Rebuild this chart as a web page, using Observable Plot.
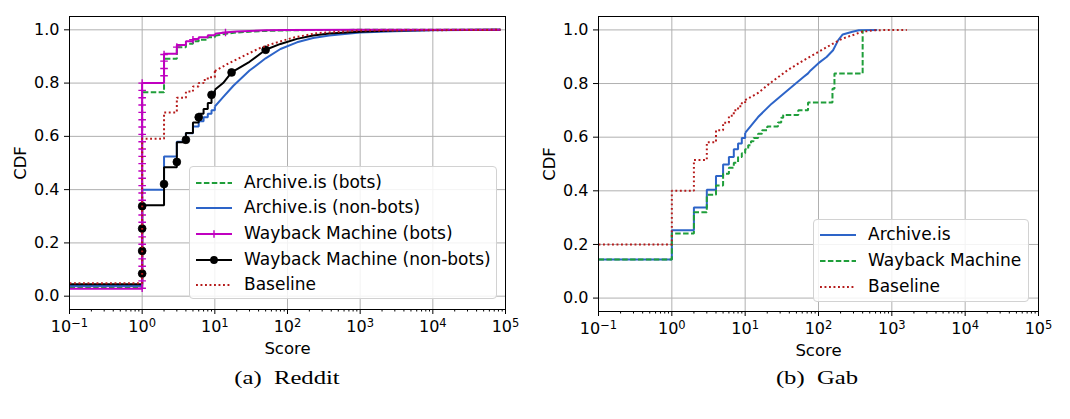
<!DOCTYPE html>
<html><head><meta charset="utf-8">
<script src="https://cdn.jsdelivr.net/npm/d3@7"></script>
<script src="https://cdn.jsdelivr.net/npm/@observablehq/plot@0.6"></script>
<style>
body{margin:0;background:#fff;}
#wrap{position:relative;width:1070px;height:419px;overflow:hidden;font-family:"DejaVu Sans";background:#fff;}
.panel{position:absolute;top:0;}
.legend{position:absolute;border:1px solid #d2d2d2;border-radius:4px;background:rgba(255,255,255,0.85);box-sizing:border-box;}
.row{position:absolute;left:0;right:0;height:26px;}
.row svg{position:absolute;top:0;left:6px;overflow:visible;}
.row span{position:absolute;left:54px;top:13px;transform:translateY(-52%);font-size:17px;white-space:nowrap;line-height:1;color:#000;}
.caption{position:absolute;font-family:"Liberation Serif";font-size:18px;transform:translate(-50%,-50%) scaleX(1.37);white-space:pre;color:#000;}
</style></head><body><div id="wrap"></div>
<script>
// ---------- tick values / labels ----------
const scoreTicks = [0.1, 1, 10, 100, 1000, 10000, 100000];
const scoreTickLabels = ["10^\u22121", "10^0", "10^1", "10^2", "10^3", "10^4", "10^5"];
const cdfTicks = [0, 0.2, 0.4, 0.6, 0.8, 1.0];

// ---------- (a) Reddit ----------
const redditNames = ["Archive.is (bots)", "Archive.is (non-bots)", "Wayback Machine (bots)", "Wayback Machine (non-bots)", "Baseline"];

const redditArchiveBotsX = [0.1, 1, 2, 3, 4, 5, 6, 8, 10, 15, 20, 30, 50, 100, 200, 1000, 85000];
const redditArchiveBotsY = [0.033, 0.766, 0.891, 0.935, 0.948, 0.957, 0.963, 0.972, 0.978, 0.986, 0.99, 0.993, 0.996, 0.998, 0.999, 1.0, 1.0];

const redditArchiveNonBotsX = [0.1, 1, 2, 3, 4, 5, 6, 7, 8, 9, 10, 13, 18, 30, 50, 80, 135, 225, 375, 1000, 3000, 10000, 85000];
const redditArchiveNonBotsY = [0.038, 0.40, 0.524, 0.58, 0.612, 0.637, 0.657, 0.672, 0.685, 0.698, 0.712, 0.747, 0.79, 0.847, 0.893, 0.928, 0.953, 0.969, 0.979, 0.99, 0.995, 0.998, 1.0];

const redditWaybackBotsX = [0.1, 1, 2, 3, 4, 5, 6, 8, 10, 15, 20, 30, 50, 100, 1000, 85000];
const redditWaybackBotsY = [0.028, 0.80, 0.91, 0.943, 0.957, 0.966, 0.972, 0.98, 0.985, 0.991, 0.994, 0.996, 0.998, 0.999, 1.0, 1.0];
const redditWaybackBotsMarkerLevels = [0.03, 0.0575, 0.085, 0.1125, 0.14, 0.1675, 0.195, 0.2225, 0.25, 0.2775, 0.305, 0.3325, 0.36, 0.3875, 0.415, 0.4425, 0.47, 0.4975, 0.525, 0.5525, 0.58, 0.6075, 0.635, 0.6625, 0.69, 0.7175, 0.745, 0.7725, 0.80, 0.8275, 0.855, 0.8825, 0.9075, 0.935, 0.9625, 0.99];

const redditWaybackNonBotsX = [0.1, 1, 2, 3, 4, 5, 6, 7, 8, 9, 10, 13, 17, 30, 50, 80, 135, 225, 375, 1000, 3000, 10000, 85000];
const redditWaybackNonBotsY = [0.045, 0.341, 0.484, 0.578, 0.613, 0.652, 0.685, 0.703, 0.725, 0.758, 0.775, 0.80, 0.84, 0.88, 0.925, 0.947, 0.966, 0.979, 0.986, 0.993, 0.997, 0.999, 1.0];
const redditWaybackNonBotsMarkerLevels = [0.085, 0.17, 0.254, 0.338, 0.421, 0.504, 0.587, 0.672, 0.756, 0.84, 0.925];

const redditBaselineX = [0.1, 1, 2, 3, 4, 5, 6, 7, 8, 10, 15, 25, 42, 70, 117, 260, 1000, 85000];
const redditBaselineY = [0.049, 0.591, 0.69, 0.745, 0.768, 0.787, 0.80, 0.812, 0.822, 0.845, 0.872, 0.902, 0.932, 0.952, 0.97, 0.988, 0.997, 1.0];

// ---------- (b) Gab ----------
const gabNames = ["Archive.is", "Wayback Machine", "Baseline"];

const gabArchiveX = [0.1, 1, 2, 3, 4, 5, 6, 7, 8, 9, 10, 15, 23, 38, 63, 72, 78, 100, 129, 158, 185, 214, 290, 355, 630];
const gabArchiveY = [0.144, 0.253, 0.338, 0.404, 0.455, 0.498, 0.526, 0.555, 0.576, 0.597, 0.616, 0.675, 0.725, 0.775, 0.825, 0.838, 0.849, 0.876, 0.899, 0.924, 0.961, 0.983, 0.993, 0.999, 1.0];

const gabWaybackX = [0.1, 1, 2, 3, 4, 5, 6, 7, 8, 9, 10, 11, 12, 13, 15, 17, 20, 28, 31, 33, 53, 72, 155, 165, 400];
const gabWaybackY = [0.144, 0.241, 0.32, 0.385, 0.42, 0.464, 0.486, 0.505, 0.526, 0.54, 0.555, 0.57, 0.585, 0.597, 0.613, 0.626, 0.64, 0.655, 0.672, 0.683, 0.70, 0.729, 0.781, 0.837, 1.0];

const gabBaselineX = [0.1, 1, 2, 3, 4, 5, 6, 7, 8, 9, 10, 15, 23, 38, 63, 100, 158, 214, 290, 390, 600, 1600];
const gabBaselineY = [0.20, 0.40, 0.515, 0.581, 0.626, 0.654, 0.68, 0.70, 0.715, 0.727, 0.738, 0.765, 0.806, 0.85, 0.887, 0.918, 0.949, 0.968, 0.98, 0.993, 0.999, 1.0];

// ---------- styles ----------
const GREEN = "#1f9e3a", BLUE = "#2d64c8", MAGENTA = "#c000c0", BLACK = "#000000", RED = "#b51b1b";
const LW = 2;
const styleOf = {
  green: {stroke: GREEN, strokeDasharray: "5.5,2.4", strokeLinecap: "butt"},
  blue: {stroke: BLUE, strokeLinecap: "butt"},
  magenta: {stroke: MAGENTA, strokeLinecap: "butt"},
  black: {stroke: BLACK, strokeLinecap: "butt"},
  red: {stroke: RED, strokeDasharray: "1.9,2.6", strokeLinecap: "butt"}
};

const plusSymbol = {
  draw(context, size) {
    const r = Math.sqrt(size / Math.PI);
    context.moveTo(-r, 0); context.lineTo(r, 0);
    context.moveTo(0, -r); context.lineTo(0, r);
  }
};

function rowsOf(xs, ys) { return xs.map((x, i) => ({x, y: ys[i]})); }

// x position where the CDF line reaches a given level (for markers)
function levelX(xs, ys, q, stepUntil) {
  for (let i = 0; i < ys.length; i++) {
    if (ys[i] >= q - 1e-9) {
      if (xs[i] > stepUntil && i > 0) {
        const t = (q - ys[i - 1]) / (ys[i] - ys[i - 1]);
        return Math.exp(Math.log(xs[i - 1]) + t * (Math.log(xs[i]) - Math.log(xs[i - 1])));
      }
      return xs[i];
    }
  }
  return xs[xs.length - 1];
}

function seriesLines(s) {
  const rows = rowsOf(s.x, s.y);
  const st = styleOf[s.style];
  const common = {x: "x", y: "y", strokeWidth: LW, strokeLinejoin: "miter", ...st};
  const stepRows = rows.filter(d => d.x <= s.stepUntil);
  const smoothRows = rows.filter(d => d.x >= s.stepUntil);
  const m = [Plot.line(stepRows, {...common, curve: "step-after"})];
  if (smoothRows.length > 1) m.push(Plot.line(smoothRows, {...common, curve: "linear", strokeLinejoin: "round"}));
  return m;
}
function seriesMarkers(s) {
  if (!s.markers) return [];
  const st = styleOf[s.style];
  const mk = s.markers.map(q => ({x: levelX(s.x, s.y, q, s.stepUntil), y: q}));
  if (s.marker === "circle") return [Plot.dot(mk, {x: "x", y: "y", r: 3.9, fill: BLACK, stroke: BLACK, strokeWidth: 0.8})];
  return [Plot.dot(mk, {x: "x", y: "y", r: 3.8, symbol: plusSymbol, fill: "none", stroke: st.stroke, strokeWidth: 1.4})];
}

const minorTicks = [];
for (let k = -1; k < 5; k++) for (let m = 2; m <= 9; m++) minorTicks.push(m * Math.pow(10, k));

function makePanel({series, order, width, height, mt, mr, mb, ml}) {
  const marks = [
    Plot.gridX(scoreTicks, {stroke: "#b0b0b0", strokeOpacity: 1, strokeWidth: 1}),
    Plot.gridY(cdfTicks, {stroke: "#b0b0b0", strokeOpacity: 1, strokeWidth: 1})
  ];
  for (const [idx, what] of order) {
    const s = series[idx];
    if (what === "line") marks.push(...seriesLines(s));
    else marks.push(...seriesMarkers(s));
  }
  marks.push(
    Plot.frame({stroke: "#000", strokeWidth: 1}),
    Plot.axisX(minorTicks, {tickSize: 2.5, tickFormat: () => "", label: null}),
    Plot.axisX(scoreTicks, {tickSize: 5, tickPadding: 6, tickFormat: d => scoreTickLabels[scoreTicks.indexOf(d)], label: null, fontSize: 16}),
    Plot.axisY(cdfTicks, {tickSize: 5, tickPadding: 5, tickFormat: d3.format(".1f"), label: null, fontSize: 16}),
    Plot.text(["Score"], {text: d => d, frameAnchor: "bottom", dy: 39, lineAnchor: "middle", fontSize: 16.5}),
    Plot.text(["CDF"], {text: d => d, frameAnchor: "left", dx: -49, rotate: -90, lineAnchor: "middle", textAnchor: "middle", fontSize: 16.5})
  );
  const svg = Plot.plot({
    width, height, marginTop: mt, marginRight: mr, marginBottom: mb, marginLeft: ml,
    x: {type: "log", domain: [0.1, 1e5], label: null},
    y: {domain: [-0.05, 1.05], label: null},
    style: {fontFamily: "DejaVu Sans", fontSize: "16px", color: "#000", background: "transparent", overflow: "visible"},
    marks
  });
  // render "10^k" tick labels with a raised exponent
  d3.select(svg).selectAll("text").each(function () {
    const t = this.textContent;
    if (t && t.includes("^") && this.children.length === 0) {
      const [base, exp] = t.split("^");
      this.textContent = "";
      d3.select(this).append("tspan").text(base);
      d3.select(this).append("tspan").attr("dy", "-0.45em").attr("font-size", "11.5px").text(exp);
    }
  });
  return svg;
}

const redditSeries = [
  {name: redditNames[0], x: redditArchiveBotsX, y: redditArchiveBotsY, style: "green", stepUntil: 10},
  {name: redditNames[1], x: redditArchiveNonBotsX, y: redditArchiveNonBotsY, style: "blue", stepUntil: 10},
  {name: redditNames[2], x: redditWaybackBotsX, y: redditWaybackBotsY, style: "magenta", stepUntil: 10, markers: redditWaybackBotsMarkerLevels, marker: "plus"},
  {name: redditNames[3], x: redditWaybackNonBotsX, y: redditWaybackNonBotsY, style: "black", stepUntil: 10, markers: redditWaybackNonBotsMarkerLevels, marker: "circle"},
  {name: redditNames[4], x: redditBaselineX, y: redditBaselineY, style: "red", stepUntil: 10}
];
const gabSeries = [
  {name: gabNames[0], x: gabArchiveX, y: gabArchiveY, style: "blue", stepUntil: 10},
  {name: gabNames[1], x: gabWaybackX, y: gabWaybackY, style: "green", stepUntil: Infinity},
  {name: gabNames[2], x: gabBaselineX, y: gabBaselineY, style: "red", stepUntil: 10}
];

const wrap = document.getElementById("wrap");

function place(el, left) { el.classList.add("panel"); el.style.left = left + "px"; wrap.appendChild(el); }
place(makePanel({
  series: redditSeries,
  order: [[0, "line"], [1, "line"], [3, "line"], [2, "line"], [2, "markers"], [3, "markers"], [4, "line"]],
  width: 535, height: 360, mt: 16, mr: 30, mb: 51, ml: 69
}), 0);
place(makePanel({
  series: gabSeries,
  order: [[0, "line"], [1, "line"], [2, "line"]],
  width: 535, height: 360, mt: 16, mr: 32, mb: 49, ml: 63
}), 535);

function legend(series, box) {
  const L = document.createElement("div");
  L.className = "legend";
  Object.assign(L.style, {left: box.left + "px", top: box.top + "px", width: box.width + "px", height: box.height + "px"});
  series.forEach((s, i) => {
    const row = document.createElement("div");
    row.className = "row";
    row.style.top = (box.first + i * box.pitch - 13) + "px";
    const st = styleOf[s.style];
    const ns = "http://www.w3.org/2000/svg";
    const svg = document.createElementNS(ns, "svg");
    svg.setAttribute("width", 36); svg.setAttribute("height", 26);
    const ln = document.createElementNS(ns, "line");
    ln.setAttribute("x1", 0); ln.setAttribute("x2", 36); ln.setAttribute("y1", 13); ln.setAttribute("y2", 13);
    ln.setAttribute("stroke", st.stroke); ln.setAttribute("stroke-width", LW);
    if (st.strokeDasharray) ln.setAttribute("stroke-dasharray", st.strokeDasharray);
    svg.appendChild(ln);
    if (s.marker === "circle") {
      const c = document.createElementNS(ns, "circle");
      c.setAttribute("cx", 18); c.setAttribute("cy", 13); c.setAttribute("r", 3.9); c.setAttribute("fill", BLACK);
      svg.appendChild(c);
    } else if (s.marker === "plus") {
      const p = document.createElementNS(ns, "path");
      p.setAttribute("d", "M14.2,13H21.8M18,9.2V16.8"); p.setAttribute("stroke", st.stroke); p.setAttribute("stroke-width", 1.4); p.setAttribute("fill", "none");
      svg.appendChild(p);
    }
    row.appendChild(svg);
    const t = document.createElement("span");
    t.textContent = s.name;
    row.appendChild(t);
    L.appendChild(row);
  });
  wrap.appendChild(L);
}
legend(redditSeries, {left: 189, top: 166, width: 308, height: 133, first: 15.5, pitch: 25.7});
legend(gabSeries, {left: 813, top: 219, width: 216, height: 83, first: 14.5, pitch: 26});

function caption(text, cx, cy) {
  const c = document.createElement("div");
  c.className = "caption"; c.textContent = text;
  c.style.left = cx + "px"; c.style.top = cy + "px";
  wrap.appendChild(c);
}
caption("(a)  Reddit", 287, 378);
caption("(b)  Gab", 817, 378);
</script></body></html>
